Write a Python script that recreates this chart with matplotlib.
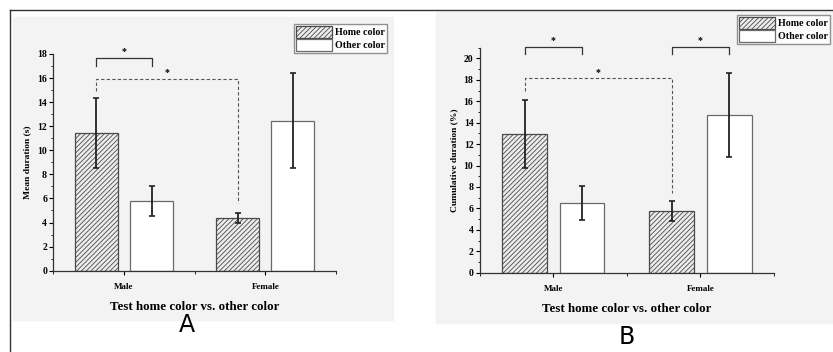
import numpy as np
import matplotlib.pyplot as plt
from matplotlib.patches import Rectangle
from matplotlib.lines import Line2D
from matplotlib.ticker import MultipleLocator

plt.rcParams['font.family'] = ['Liberation Serif', 'DejaVu Serif']
plt.rcParams['hatch.linewidth'] = 0.6
plt.rcParams['hatch.color'] = '#707070'

groups = ['Male', 'Female']

# panel A: mean duration (s)
home_A = [11.45, 4.38]
home_A_err = [2.9, 0.42]
other_A = [5.8, 12.46]
other_A_err = [1.27, 3.95]

# panel B: cumulative duration (%)
home_B = [12.95, 5.75]
home_B_err = [3.2, 0.92]
other_B = [6.5, 14.72]
other_B_err = [1.6, 3.9]

# significance brackets: (height, left leg end, right leg end)
solid_A = [(17.7, 17.0, 17.0)]
dashed_A = (15.9, 14.9, 5.6)
solid_B = [(21.1, 20.45, 20.45), (21.1, 20.45, 20.45)]
dashed_B = (18.15, 17.0, 7.45)

pos = np.array([1, 3])
off = 0.39
w = 0.61

fig = plt.figure(figsize=(8.33, 3.52), dpi=100)

# scanned panel backgrounds and outer frame
fig.patches.append(Rectangle((13/833, 1-320/352), 380/833, 303/352,
                             transform=fig.transFigure, color='#f3f3f3', zorder=-2))
fig.patches.append(Rectangle((436/833, 1-323/352), 397/833, 311/352,
                             transform=fig.transFigure, color='#f3f3f3', zorder=-2))
fig.add_artist(Line2D([10/833, 1], [1-10/352, 1-10/352], color='#333333', lw=1.0))
fig.add_artist(Line2D([10/833, 10/833], [0, 1-10/352], color='#333333', lw=1.0))


def bracket(ax, x1, x2, y, l1, l2, ls, lw, color):
    ax.plot([x1, x1, x2, x2], [l1, y, y, l2], ls=ls, lw=lw, color=color, clip_on=False)
    ax.text((x1 + x2) / 2, y + 0.15, '*', ha='center', va='bottom',
            fontsize=7, fontweight='bold', clip_on=False)


def panel(rect, home, home_err, other, other_err, ylim, ylabel, ytick):
    ax = fig.add_axes(rect)
    ax.patch.set_alpha(0)
    ax.bar(pos - off, home, w, facecolor='#ececec', edgecolor='#4a4a4a',
           hatch='///////', lw=0.9, label='Home color', zorder=2)
    ax.bar(pos + off, other, w, facecolor='white', edgecolor='#6a6a6a',
           lw=0.9, label='Other color', zorder=2)
    ax.errorbar(pos - off, home, yerr=home_err, fmt='none', ecolor='#222222',
                elinewidth=1.3, capsize=2.5, capthick=1.2, zorder=3)
    ax.errorbar(pos + off, other, yerr=other_err, fmt='none', ecolor='#222222',
                elinewidth=1.3, capsize=2.5, capthick=1.2, zorder=3)
    ax.set_xlim(0, 4)
    ax.set_ylim(*ylim)
    ax.set_xticks(pos)
    ax.set_xticklabels(groups, fontsize=6.5, fontweight='bold')
    ax.xaxis.set_minor_locator(MultipleLocator(1))
    ax.yaxis.set_major_locator(MultipleLocator(ytick))
    ax.yaxis.set_minor_locator(MultipleLocator(1))
    for lab in ax.get_yticklabels():
        lab.set_fontweight('bold')
    ax.tick_params(axis='y', labelsize=7, length=3, width=0.8, pad=1.5, direction='out')
    ax.tick_params(axis='y', which='minor', length=1.8, width=0.6)
    ax.tick_params(axis='x', length=3, width=0.8, pad=6)
    ax.tick_params(axis='x', which='minor', length=2, width=0.6)
    for s in ['top', 'right']:
        ax.spines[s].set_visible(False)
    for s in ['left', 'bottom']:
        ax.spines[s].set_linewidth(0.9)
        ax.spines[s].set_color('#333333')
    ax.set_ylabel(ylabel, fontsize=6.8, fontweight='bold', labelpad=4)
    ax.set_xlabel('Test home color vs. other color', fontsize=9.3,
                  fontweight='bold', labelpad=7)
    return ax


legend_kw = dict(prop={'weight': 'bold', 'size': 7.2}, frameon=True, fancybox=False,
                 edgecolor='#777777', handlelength=3.6, handleheight=1.45,
                 handletextpad=0.3, labelspacing=0.1, borderpad=0.2, borderaxespad=0,
                 bbox_transform=fig.transFigure, loc='upper right')

axA = panel([0.064, 0.231, 0.3394, 0.6156], home_A, home_A_err, other_A, other_A_err,
            (0, 18), 'Mean duration (s)', 2)
for y, l1, l2 in solid_A:
    bracket(axA, pos[0] - off, pos[0] + off, y, l1, l2, '-', 0.9, '#333333')
bracket(axA, pos[0] - off, pos[1] - off, *dashed_A, (0, (3, 2)), 0.8, '#555555')
axA.legend(bbox_to_anchor=(387/833, 1-24/352), **legend_kw)

axB = panel([0.5759, 0.2253, 0.3533, 0.6392], home_B, home_B_err, other_B, other_B_err,
            (0, 21), 'Cumulative duration (%)', 2)
for i, (y, l1, l2) in enumerate(solid_B):
    bracket(axB, pos[i] - off, pos[i] + off, y, l1, l2, '-', 0.9, '#333333')
bracket(axB, pos[0] - off, pos[1] - off, *dashed_B, (0, (3, 2)), 0.8, '#555555')
axB.legend(bbox_to_anchor=(830/833, 1-15/352), **legend_kw)

fig.text(187/833, 1-325/352, 'A', ha='center', va='center', fontsize=17,
         family='DejaVu Sans')
fig.text(627/833, 1-337/352, 'B', ha='center', va='center', fontsize=17,
         family='DejaVu Sans')

fig.savefig('out.png', dpi=100)
